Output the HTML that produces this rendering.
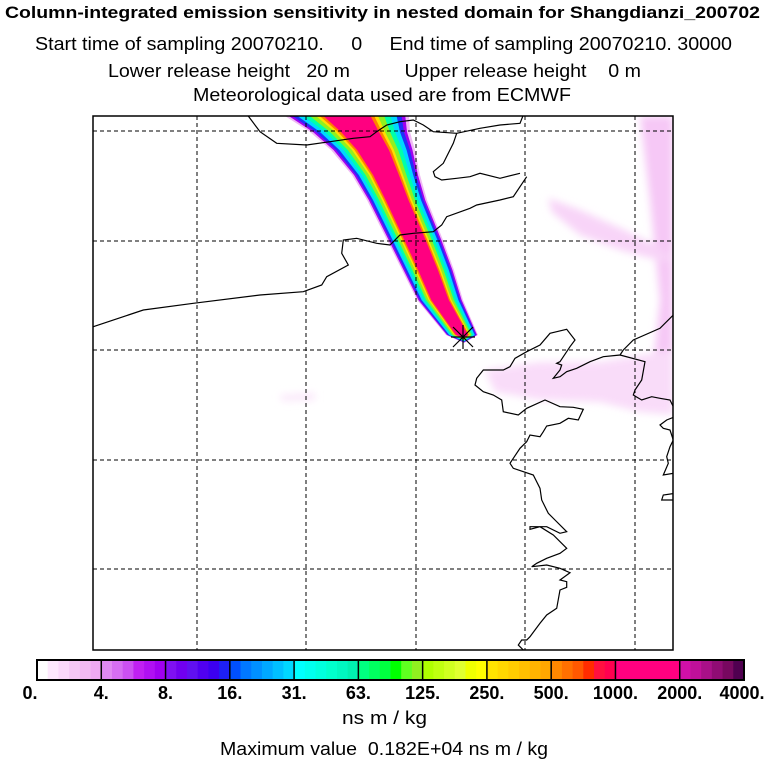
<!DOCTYPE html>
<html><head><meta charset="utf-8"><style>
body{margin:0;background:#fff;width:768px;height:768px;overflow:hidden;font-family:"Liberation Sans",sans-serif}
svg{display:block}
text{white-space:pre}
</style></head><body>
<svg id="s" width="768" height="768" viewBox="0 0 768 768">
<g font-family="Liberation Sans, sans-serif" fill="#000">
<text x="5" y="18" font-size="17" font-weight="bold" textLength="755" lengthAdjust="spacingAndGlyphs">Column-integrated emission sensitivity in nested domain for Shangdianzi_200702</text>
<text x="35" y="50" font-size="18" textLength="697" lengthAdjust="spacingAndGlyphs">Start time of sampling 20070210.&#160;&#160;&#160;&#160; 0&#160;&#160;&#160;&#160; End time of sampling 20070210. 30000</text>
<text x="108" y="77" font-size="18" textLength="533" lengthAdjust="spacingAndGlyphs">Lower release height&#160;&#160; 20 m&#160;&#160;&#160;&#160;&#160;&#160;&#160;&#160;&#160; Upper release height&#160;&#160;&#160; 0 m</text>
<text x="193" y="101" font-size="18" textLength="378" lengthAdjust="spacingAndGlyphs">Meteorological data used are from ECMWF</text>
</g>
<defs><clipPath id="pc"><rect x="93" y="116" width="580" height="534"/></clipPath><filter id="bl"><feGaussianBlur stdDeviation="4"/></filter></defs>
<g clip-path="url(#pc)">
<g id="pink" filter="url(#bl)"></g>
<g id="plume"></g>
<g id="grid"></g>
<g id="coast" fill="none" stroke="#000" stroke-width="1.2"></g>
</g>
<rect x="93" y="116" width="580" height="534" fill="none" stroke="#000" stroke-width="1.5"/>
<g stroke="#000" stroke-width="1.2">
<line x1="451" y1="337" x2="475" y2="337"/><line x1="463" y1="325" x2="463" y2="349"/>
<line x1="453" y1="327" x2="473" y2="347"/><line x1="453" y1="347" x2="473" y2="327"/>
</g>
<g id="cbar"></g>
<text x="342" y="724" font-size="18" textLength="85" lengthAdjust="spacingAndGlyphs">ns m / kg</text>
<text x="220" y="755" font-size="18" textLength="328" lengthAdjust="spacingAndGlyphs">Maximum value&#160; 0.182E+04 ns m / kg</text>
</svg>
<script>
const cbLabels=["0.","4.","8.","16.","31.","63.","125.","250.","500.","1000.","2000.","4000."];
const cbColors=[
["#ffffff","#fde8fd","#fad8fa","#f6c8f6","#f2baf2","#eeaaf2"],
["#e08af2","#d66ef2","#cc50f2","#c020f2","#b010f2","#a000f0"],
["#7f10f2","#7000f0","#6010f0","#5000f0","#3c00f0","#1e20f4"],
["#0050ff","#0078ff","#0090ff","#00a8ff","#00c0ff","#00d8ff"],
["#00ffff","#00ffee","#00ffdd","#00ffcc","#00f8c0","#00f0b0"],
["#00ff80","#00ff60","#00ff40","#00ff00","#60ff20","#90f020"],
["#b0ff00","#c0ff10","#d0ff20","#e0ff30","#f0ff00","#ffff00"],
["#ffe400","#ffd800","#ffcc00","#ffc000","#ffb400","#ffa800"],
["#ff8800","#ff7000","#ff5800","#ff2c00","#ff1040","#ff0050"],
["#ff0080","#ff0080","#ff0080","#ff0080","#ff0080","#ff0080"],
["#d010a8","#c0109a","#a81088","#900c74","#780860","#500050"]];
const NS="http://www.w3.org/2000/svg";
function mk(t,a,p){const e=document.createElementNS(NS,t);for(const k in a)e.setAttribute(k,a[k]);p.appendChild(e);return e;}
const cb=document.getElementById('cbar');const x0=37,x1=744,cy=660,ch=20;const sw=(x1-x0)/cbColors.length;
cbColors.forEach((seg,i)=>{seg.forEach((c,j)=>{const r=mk('rect',{x:x0+i*sw+j*sw/6,y:cy,width:sw/6+0.6,height:ch,fill:c},cb);

});
if(i>0){const l=mk('line',{x1:x0+i*sw,x2:x0+i*sw,y1:cy,y2:cy+ch,stroke:'#000','stroke-width':1.5},cb);

}});
const fr=mk('rect',{x:x0,y:cy,width:x1-x0,height:ch,fill:'none',stroke:'#000','stroke-width':2},cb);


cbLabels.forEach((t,i)=>{let x=x0+i*sw;if(i==0)x=30;if(i==cbLabels.length-1)x=742;const tx=mk('text',{x:x,y:699,'font-size':18,'font-weight':'bold','text-anchor':'middle'},cb);tx.textContent=t;

});
const g=document.getElementById('grid');
[197,306,416,525,635].forEach(x=>{const l=mk('line',{x1:x,x2:x,y1:116,y2:650,stroke:'#000','stroke-dasharray':'4,3','stroke-width':1},g);});
[131,241,350,460,569].forEach(y=>{const l=mk('line',{x1:93,x2:673,y1:y,y2:y,stroke:'#000','stroke-dasharray':'4,3','stroke-width':1},g);});
const pk=document.getElementById('pink');
[["M640,116 L673,116 L673,400 L650,395 L660,300 L650,200 Z","#f6c8f6"],
["M548,198 L580,210 L620,228 L655,245 L673,258 L665,262 L620,250 L580,235 L552,212 Z","#f8d4f8"],
["M485,370 L540,362 L600,362 L673,350 L673,415 L640,412 L600,402 L540,400 L495,392 Z","#f9dcf9"],
["M280,395 L315,393 L315,400 L282,401 Z","#fae6fa"]].forEach(p=>{const e=mk('path',{d:p[0],fill:p[1]},pk);});
const cen=[[330,100,72],[347,116,62],[360,132,50],[373,150,42],[386,175,34],[397,200,30],[415,240,28],[428,270,26],[440,300,23],[462,335,16]];
const layers=[[1.0,"#f0b8f4"],[0.94,"#a000f0"],[0.88,"#2030f8"],[0.8,"#00d8ff"],[0.7,"#00ffaa"],[0.6,"#90f020"],[0.5,"#ffe000"],[0.44,"#ff8000"],[0.38,"#ff0080"]];
const pl=document.getElementById('plume');
layers.forEach(([f,c])=>{const L=cen.map(p=>[p[0]-p[2]*f,p[1]]),R=cen.map(p=>[p[0]+p[2]*f,p[1]]).reverse();
const last=cen[cen.length-1];const tip=[last[0]+2,last[1]+8*f];
const pts=[...L,tip,...R].map(p=>p.join(',')).join(' ');
const e=mk('polygon',{points:pts,fill:c,'stroke-linejoin':'round'},pl);});
const cs=document.getElementById('coast');
function line(pts,ox,oy,s){const d=pts.map((p,i)=>(i?'L':'M')+(ox+p[0]/s).toFixed(1)+','+(oy+p[1]/s).toFixed(1)).join(' ');const e=mk('path',{d:d},cs);}
line([[-360,-45],[-150,-40],[-60,-15],[0,65],[50,100],[140,105],[210,95],[280,85],[330,80],[350,65],[380,45],[420,35],[460,30],[490,45],[520,65],[590,70],[660,55],[720,45],[780,40],[790,15]],260,110,3);
line([[590,70],[580,100],[550,160],[520,185],[525,200],[545,210],[590,205],[630,200],[660,190],[720,205],[780,190]],260,110,3);
line([[800,200],[760,260],[720,270],[650,285],[630,295],[560,320],[545,345],[520,365],[460,370],[420,375],[390,405],[350,400],[290,385],[250,390],[245,430],[265,465],[200,500],[185,525],[130,545],[0,555],[-200,580],[-350,600],[-500,650]],260,110,3);
line([[640,45],[600,85],[520,120],[490,150],[480,165],[430,170],[390,185],[350,205],[320,215],[300,230],[280,235],[300,210],[305,195],[290,190],[300,185],[330,140],[345,120],[320,88],[290,95],[270,100],[240,135],[200,155],[165,175],[150,200],[130,210],[70,210],[50,235],[45,255],[70,275],[100,285],[125,300],[130,335],[175,345],[200,325],[255,300],[300,320],[340,322],[370,328],[355,360],[325,355],[300,370],[260,378],[250,395],[240,410],[210,405],[200,425],[180,445],[160,475],[150,490],[160,505],[220,525],[240,565],[245,600],[265,640],[285,660],[320,695],[300,700],[260,680],[210,680],[210,688],[240,680],[280,705],[320,745],[300,760],[260,775],[230,790],[215,800],[260,795],[300,805],[330,818],[300,840],[320,845],[320,862],[300,870],[290,925],[260,945],[240,970],[210,1010],[200,1020],[185,1020],[175,1035],[190,1050]],460,300,3);
line([[480,165],[555,185],[545,240],[525,270],[520,285],[545,300],[575,290],[600,295],[630,300],[640,320],[645,330]],460,300,3);
line([[645,350],[620,360],[600,375],[610,385],[630,390],[640,420],[630,440],[620,470],[625,490],[610,525],[640,520]],460,300,3);
line([[645,580],[610,585],[605,600],[645,600]],460,300,3);
</script>
</body></html>
